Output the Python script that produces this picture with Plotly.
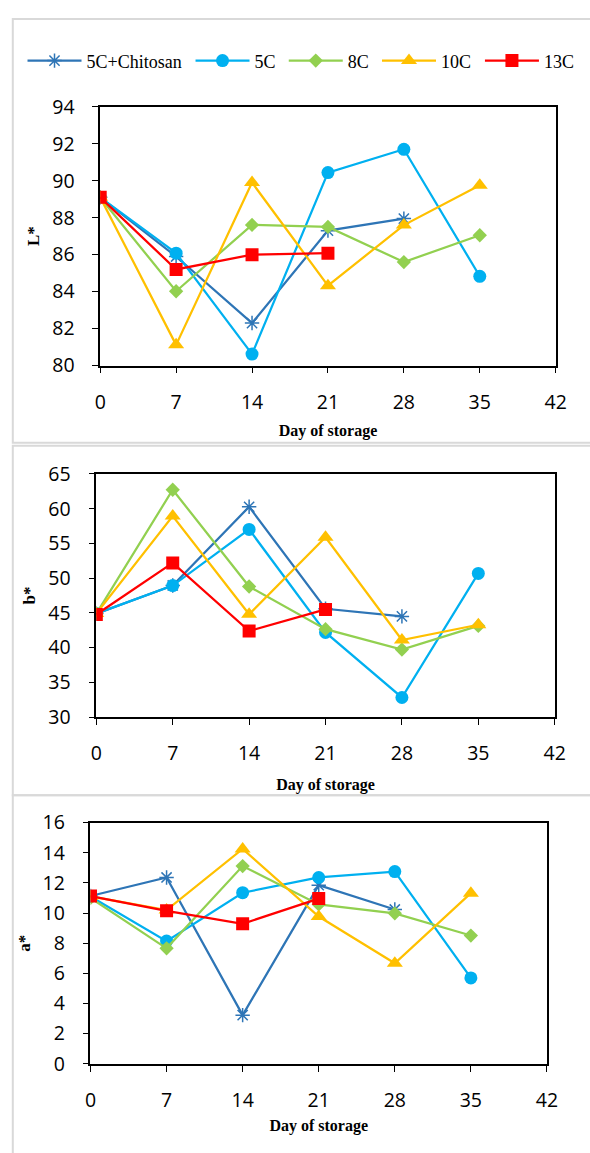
import plotly.graph_objects as go

days = [0, 7, 14, 21, 28, 35]
series_names = ["5C+Chitosan", "5C", "8C", "10C", "13C"]

# L* values
L_chitosan = [89.1, 85.9, 82.3, 87.3, 87.95]
L_5C = [89.1, 86.08, 80.62, 90.44, 91.7, 84.83]
L_8C = [89.1, 84.02, 87.61, 87.5, 85.6, 87.05]
L_10C = [89.1, 81.12, 89.9, 84.32, 87.6, 89.76]
L_13C = [89.1, 85.2, 86.0, 86.08]

# b* values
b_chitosan = [44.9, 48.95, 60.28, 45.6, 44.5]
b_5C = [44.9, 48.94, 57.02, 42.2, 32.83, 50.69]
b_8C = [44.9, 62.73, 48.8, 42.66, 39.73, 43.13]
b_10C = [44.9, 58.95, 44.8, 55.88, 41.1, 43.3]
b_13C = [44.78, 52.2, 42.4, 45.5]

# a* values
a_chitosan = [11.13, 12.36, 3.23, 11.85, 10.24]
a_5C = [11.1, 8.14, 11.35, 12.36, 12.75, 5.7]
a_8C = [11.0, 7.66, 13.12, 10.57, 9.98, 8.51]
a_10C = [11.1, 10.2, 14.25, 9.77, 6.67, 11.32]
a_13C = [11.13, 10.15, 9.29, 10.96]

x_ticks = [0, 7, 14, 21, 28, 35, 42]

colors = ["#2E75B6", "#00B0F0", "#92D050", "#FFC000", "#FF0000"]
symbols = ["asterisk-open", "circle", "diamond", "triangle-up", "square"]
msizes = [12, 13, 11, 14, 13]

W, H = 590, 1153

# left edge (px) of each legend entry
legend_x = [17, 190, 286, 382, 488]
legend_ids = ["legend", "legend2", "legend3", "legend4", "legend5"]

panels = [
    dict(data=[L_chitosan, L_5C, L_8C, L_10C, L_13C], yr=[80, 94], dt=2,
         box=(97, 566, 95, 360), title="L*", ts=11),
    dict(data=[b_chitosan, b_5C, b_8C, b_10C, b_13C], yr=[30, 65], dt=5,
         box=(93, 565, 471, 720), title="b*", ts=14),
    dict(data=[a_chitosan, a_5C, a_8C, a_10C, a_13C], yr=[0, 16], dt=2,
         box=(87, 557, 828, 1075), title="a*", ts=8),
]

fig = go.Figure()

for pi, p in enumerate(panels):
    sfx = "" if pi == 0 else str(pi + 1)
    for si, vals in enumerate(p["data"]):
        is_star = symbols[si] == "asterisk-open"
        fig.add_trace(go.Scatter(
            x=days[:len(vals)], y=vals,
            mode="lines+markers",
            name=series_names[si],
            legendgroup=series_names[si],
            legend=legend_ids[si],
            showlegend=(pi == 0),
            xaxis="x" + sfx, yaxis="y" + sfx,
            line=dict(color=colors[si], width=2.25),
            marker=dict(symbol=symbols[si], size=msizes[si], color=colors[si],
                        line=dict(color=colors[si], width=1.5 if is_star else 0)),
        ))
    x0, x1, y0, y1 = p["box"]
    fig.update_layout(**{
        "xaxis" + sfx: dict(
            domain=[x0 / W, x1 / W], range=[0, 42], anchor="y" + sfx,
            tickvals=x_ticks, ticks="outside", ticklen=6, tickcolor="black",
            showline=True, linecolor="black", linewidth=1.5, mirror=True,
            showgrid=False, zeroline=False,
            tickfont=dict(family="Open Sans", size=19.5, color="black"),
            ticklabelstandoff=12,
            title=dict(text="<b>Day of storage</b>", standoff=p["ts"],
                       font=dict(family="Liberation Serif", size=16, color="black")),
        ),
        "yaxis" + sfx: dict(
            domain=[1 - y1 / H, 1 - y0 / H], range=p["yr"], anchor="x" + sfx,
            dtick=p["dt"], tick0=0, ticks="outside", ticklen=6, tickcolor="black",
            showline=True, linecolor="black", linewidth=1.5, mirror=True,
            showgrid=False, zeroline=False,
            tickfont=dict(family="Open Sans", size=19.5, color="black"),
            ticklabelstandoff=14,
            title=dict(text="<b>" + p["title"] + "</b>", standoff=8,
                       font=dict(family="Liberation Serif", size=17, color="black")),
        ),
    })

# light grey frames around each panel image
frames = [(7, 5, 700, 439), (7, 442, 700, 800), (7, 800, 700, 1200)]
for (fx0, fy0, fx1, fy1) in frames:
    fig.add_shape(type="rect", xref="paper", yref="paper",
                  x0=fx0 / W, x1=fx1 / W, y0=1 - fy1 / H, y1=1 - fy0 / H,
                  line=dict(color="#D9D9D9", width=2), layer="below")

legend_style = dict(orientation="h", xanchor="left", y=1 - 48 / H, yanchor="middle",
                    font=dict(family="Liberation Serif", size=18, color="black"),
                    itemwidth=54, bgcolor="rgba(0,0,0,0)", itemclick=False)
legends = {lid: dict(x=lx / W, **legend_style) for lid, lx in zip(legend_ids, legend_x)}

fig.update_layout(
    width=W, height=H,
    margin=dict(l=0, r=0, t=0, b=0),
    paper_bgcolor="white", plot_bgcolor="white",
    showlegend=True,
    **legends,
)

fig.write_html("out.html")
